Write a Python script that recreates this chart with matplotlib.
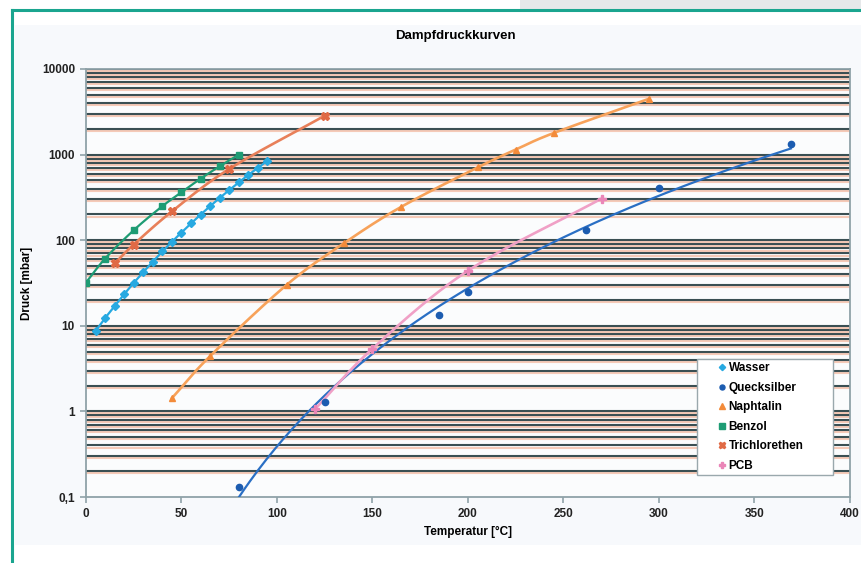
import numpy as np
import matplotlib
matplotlib.use("Agg")
import matplotlib.pyplot as plt
import matplotlib.patheffects as pe
from matplotlib.patches import Rectangle
from matplotlib.lines import Line2D

plt.rcParams["font.family"] = ["Liberation Sans", "DejaVu Sans"]

# values (temperature in degC, pressure in mbar)
wasser_t = [5, 10, 15, 20, 25, 30, 35, 40, 45, 50, 55, 60, 65, 70, 75, 80, 85, 90, 95]
wasser_p = [8.7, 12.3, 17, 23.4, 31.7, 42.4, 56.2, 73.8, 95.8, 123, 157, 199, 250, 312, 385, 474, 578, 701, 845]

hg_t = [80, 125, 185, 200, 262, 300, 369]
hg_p = [0.13, 1.28, 13.2, 25, 133, 408, 1340]

naph_t = [45, 65, 105, 135, 165, 205, 225, 245, 295]
naph_p = [1.43, 4.43, 30, 92, 245, 707, 1143, 1792, 4510]

benzol_t = [0, 10, 25, 40, 50, 60, 70, 80]
benzol_p = [32, 61, 131, 250, 363, 524, 730, 1000]

tri_t = [15, 25, 45, 75, 125]
tri_p = [53.5, 89, 217, 680, 2850]

pcb_t = [120, 150, 200, 270]
pcb_p = [1.07, 5.4, 44, 307]

x_ticks = [0, 50, 100, 150, 200, 250, 300, 350, 400]
y_ticks = [0.1, 1, 10, 100, 1000, 10000]
y_ticklabels = ["0,1", "1", "10", "100", "1000", "10000"]


def smooth(x, y, n=24):
    # Catmull-Rom curve through the points, in (x, log y) space like Excel's smoothed line
    x = np.asarray(x, float)
    ly = np.log10(np.asarray(y, float))
    px = np.concatenate([[2 * x[0] - x[1]], x, [2 * x[-1] - x[-2]]])
    py = np.concatenate([[2 * ly[0] - ly[1]], ly, [2 * ly[-1] - ly[-2]]])
    xs, ys = [], []
    t = np.linspace(0, 1, n)
    for i in range(1, len(px) - 2):
        for arr, out in ((px, xs), (py, ys)):
            p0, p1, p2, p3 = arr[i - 1], arr[i], arr[i + 1], arr[i + 2]
            out.extend(0.5 * (2 * p1 + (-p0 + p2) * t
                              + (2 * p0 - 5 * p1 + 4 * p2 - p3) * t ** 2
                              + (-p0 + 3 * p1 - 3 * p2 + p3) * t ** 3))
    return np.array(xs), 10 ** np.array(ys)


fig = plt.figure(figsize=(8.62, 5.63), dpi=100)
fig.patch.set_facecolor("white")

# page decorations: teal frame, grey corner, light chart area
fig.add_artist(Rectangle((15 / 862, 1 - 545 / 563), 847 / 862, 520 / 563,
                         transform=fig.transFigure, facecolor="#f7f9fc", edgecolor="none", zorder=0))
fig.add_artist(Rectangle((520 / 862, 1 - 9 / 563), 342 / 862, 9 / 563,
                         transform=fig.transFigure, facecolor="#e6e8ea", edgecolor="none", zorder=0))
fig.add_artist(Line2D([12 / 862, 12 / 862], [0, 1 - 10 / 563], transform=fig.transFigure,
                      color="#1aa58f", lw=2.2))
fig.add_artist(Line2D([12 / 862, 1], [1 - 10 / 563, 1 - 10 / 563], transform=fig.transFigure,
                      color="#1aa58f", lw=2.2))

ax = fig.add_axes([86 / 862, 1 - 497 / 563, 764 / 862, 428 / 563])
ax.set_facecolor("#fbfcfd")
ax.set_yscale("log")
ax.set_xlim(0, 400)
ax.set_ylim(0.1, 10000)

# horizontal gridlines at every major and minor decade step
shadow = [pe.SimpleLineShadow(offset=(0, -1.5), shadow_color="#f2a98a", alpha=0.6), pe.Normal()]
for dec in range(-1, 4):
    for m in range(1, 10):
        v = m * 10.0 ** dec
        if v <= 0.1:
            continue
        ax.axhline(v, color="#3a4f53", lw=1.5, zorder=1, path_effects=shadow)
ax.axhline(10000, color="#3a4f53", lw=1.5, zorder=1, path_effects=shadow)

lw = 1.6
# Wasser
ax.plot(*smooth(wasser_t, wasser_p), color="#27a9e1", lw=lw, zorder=3)
ax.plot(wasser_t, wasser_p, "D", color="#27a9e1", ms=4, zorder=4, label="Wasser")
# Quecksilber: markers plus power trend line
ax.plot(hg_t, hg_p, "o", color="#1c5cb0", ms=4.5, zorder=4, label="Quecksilber")
b, a = np.polyfit(np.log10(hg_t), np.log10(hg_p), 1)
tt = np.linspace(min(hg_t), max(hg_t), 200)
ax.plot(tt, 10 ** (a + b * np.log10(tt)), color="#2a6fc4", lw=lw, zorder=3)
# Naphtalin
ax.plot(*smooth(naph_t, naph_p), color="#f7a25a", lw=lw + 0.3, zorder=3)
ax.plot(naph_t, naph_p, "^", color="#f38b3a", ms=5, zorder=4, label="Naphtalin")
# Benzol
ax.plot(*smooth(benzol_t, benzol_p), color="#1e9c74", lw=lw, zorder=3)
ax.plot(benzol_t, benzol_p, "s", color="#1e9c74", ms=5, zorder=4, label="Benzol")
# Trichlorethen
ax.plot(*smooth(tri_t, tri_p), color="#e8805a", lw=lw + 0.3, zorder=3)
ax.plot(tri_t, tri_p, "X", color="#e06a45", ms=5.5, zorder=4, label="Trichlorethen")
# PCB
ax.plot(*smooth(pcb_t, pcb_p), color="#f0a0c6", lw=lw + 0.3, zorder=3)
ax.plot(pcb_t, pcb_p, "P", color="#ea86b8", ms=5.5, zorder=4, label="PCB")

for s in ax.spines.values():
    s.set_color("#8fa2a8")
    s.set_linewidth(1.3)

fs = 8.5
ax.set_xticks(x_ticks)
ax.set_xticklabels([str(v) for v in x_ticks], fontsize=fs, fontweight="bold", color="#222222")
ax.set_yticks(y_ticks)
ax.set_yticklabels(y_ticklabels, fontsize=fs, fontweight="bold", color="#222222")
ax.yaxis.set_minor_locator(matplotlib.ticker.NullLocator())
ax.tick_params(axis="both", length=4, color="#8fa2a8", width=1.2, pad=4)

ax.set_xlabel("Temperatur [°C]", fontsize=fs, fontweight="bold", labelpad=4)
ax.set_ylabel("Druck [mbar]", fontsize=fs, fontweight="bold")
ax.yaxis.set_label_coords(-0.069, 0.5)
fig.text(455 / 862, 1 - 36 / 563, "Dampfdruckkurven", ha="center", va="center",
         fontsize=9.5, fontweight="bold")

# legend box spans a fixed width, markers sit well inside the left edge
leg = ax.legend(loc="lower left", bbox_to_anchor=(0.7997, 0.0514, 0.178, 0.3), mode="expand",
                frameon=True, fancybox=False, prop={"size": 8.5, "weight": "bold"},
                handlelength=3.8, handletextpad=-1.36, borderpad=0.25, labelspacing=0.64,
                markerscale=0.8, borderaxespad=0)
leg.get_frame().set_edgecolor("#9aa8ad")
leg.get_frame().set_facecolor("white")
leg.get_frame().set_alpha(1)
leg.set_zorder(10)

fig.savefig("out.png", dpi=100, facecolor=fig.get_facecolor())
